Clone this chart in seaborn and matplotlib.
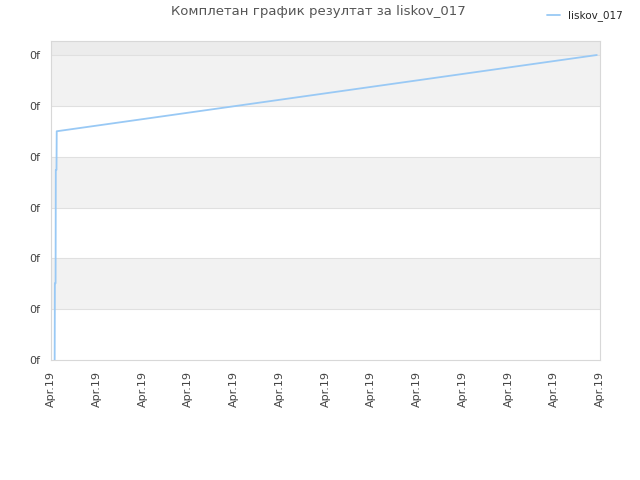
import matplotlib
matplotlib.use("Agg")
import matplotlib.pyplot as plt
import seaborn as sns
import pandas as pd

# data (x in tick units, y in tick units)
x_vals = [0.08, 0.085, 0.10, 0.105, 0.12, 0.125, 11.93]
y_vals = [0.0, 1.51, 1.51, 3.74, 3.74, 4.5, 6.0]
series_name = "liskov_017"
x_tick_labels = ["Apr.19"] * 13
y_tick_labels = ["0f"] * 7
title = "Комплетан график резултат за liskov_017"

df = pd.DataFrame({"x": x_vals, "y": y_vals, "series": series_name})

sns.set_style("white")
plt.rcParams["font.family"] = ["DejaVu Sans"]

fig = plt.figure(figsize=(6.4, 4.8), dpi=100)
ax = fig.add_axes([51/640, 1-360/480, (600-51)/640, (360-40.7)/480])

# alternating bands
for i in range(7):
    if i % 2 == 1:
        ax.axhspan(i, i+1, color="#f2f2f2", zorder=0, lw=0)
ax.axhspan(6, 7, color="#ececec", zorder=0, lw=0)
for i in range(1, 7):
    ax.axhline(i, color="#e0e0e0", lw=0.8, zorder=1)

sns.lineplot(data=df, x="x", y="y", hue="series", palette=["#99c9f5"],
             ax=ax, lw=1.3, legend=False, zorder=3, sort=False, estimator=None)

ax.set_xlim(0, 12)
ax.set_ylim(0, (360-40.7)/50.83)
ax.set_xticks(range(13))
ax.set_xticklabels(x_tick_labels, rotation=90, fontsize=8, color="#444444")
ax.set_yticks(range(7))
ax.set_yticklabels(y_tick_labels, fontsize=8, color="#444444")
ax.tick_params(axis="both", length=0, pad=8)
ax.set_xlabel("")
ax.set_ylabel("")
for s in ax.spines.values():
    s.set_color("#d8d8d8")
    s.set_linewidth(0.8)

fig.text(318/640, 1-12/480, title, ha="center", va="center", fontsize=9.5, color="#555555")

from matplotlib.lines import Line2D
h = Line2D([], [], color="#99c9f5", lw=1.3)
fig.legend([h], [series_name], loc="center left", bbox_to_anchor=(538/640, 1-16/480),
           frameon=False, fontsize=7.5, handlelength=1.2, handletextpad=0.8)

fig.savefig("out.png", dpi=100)
